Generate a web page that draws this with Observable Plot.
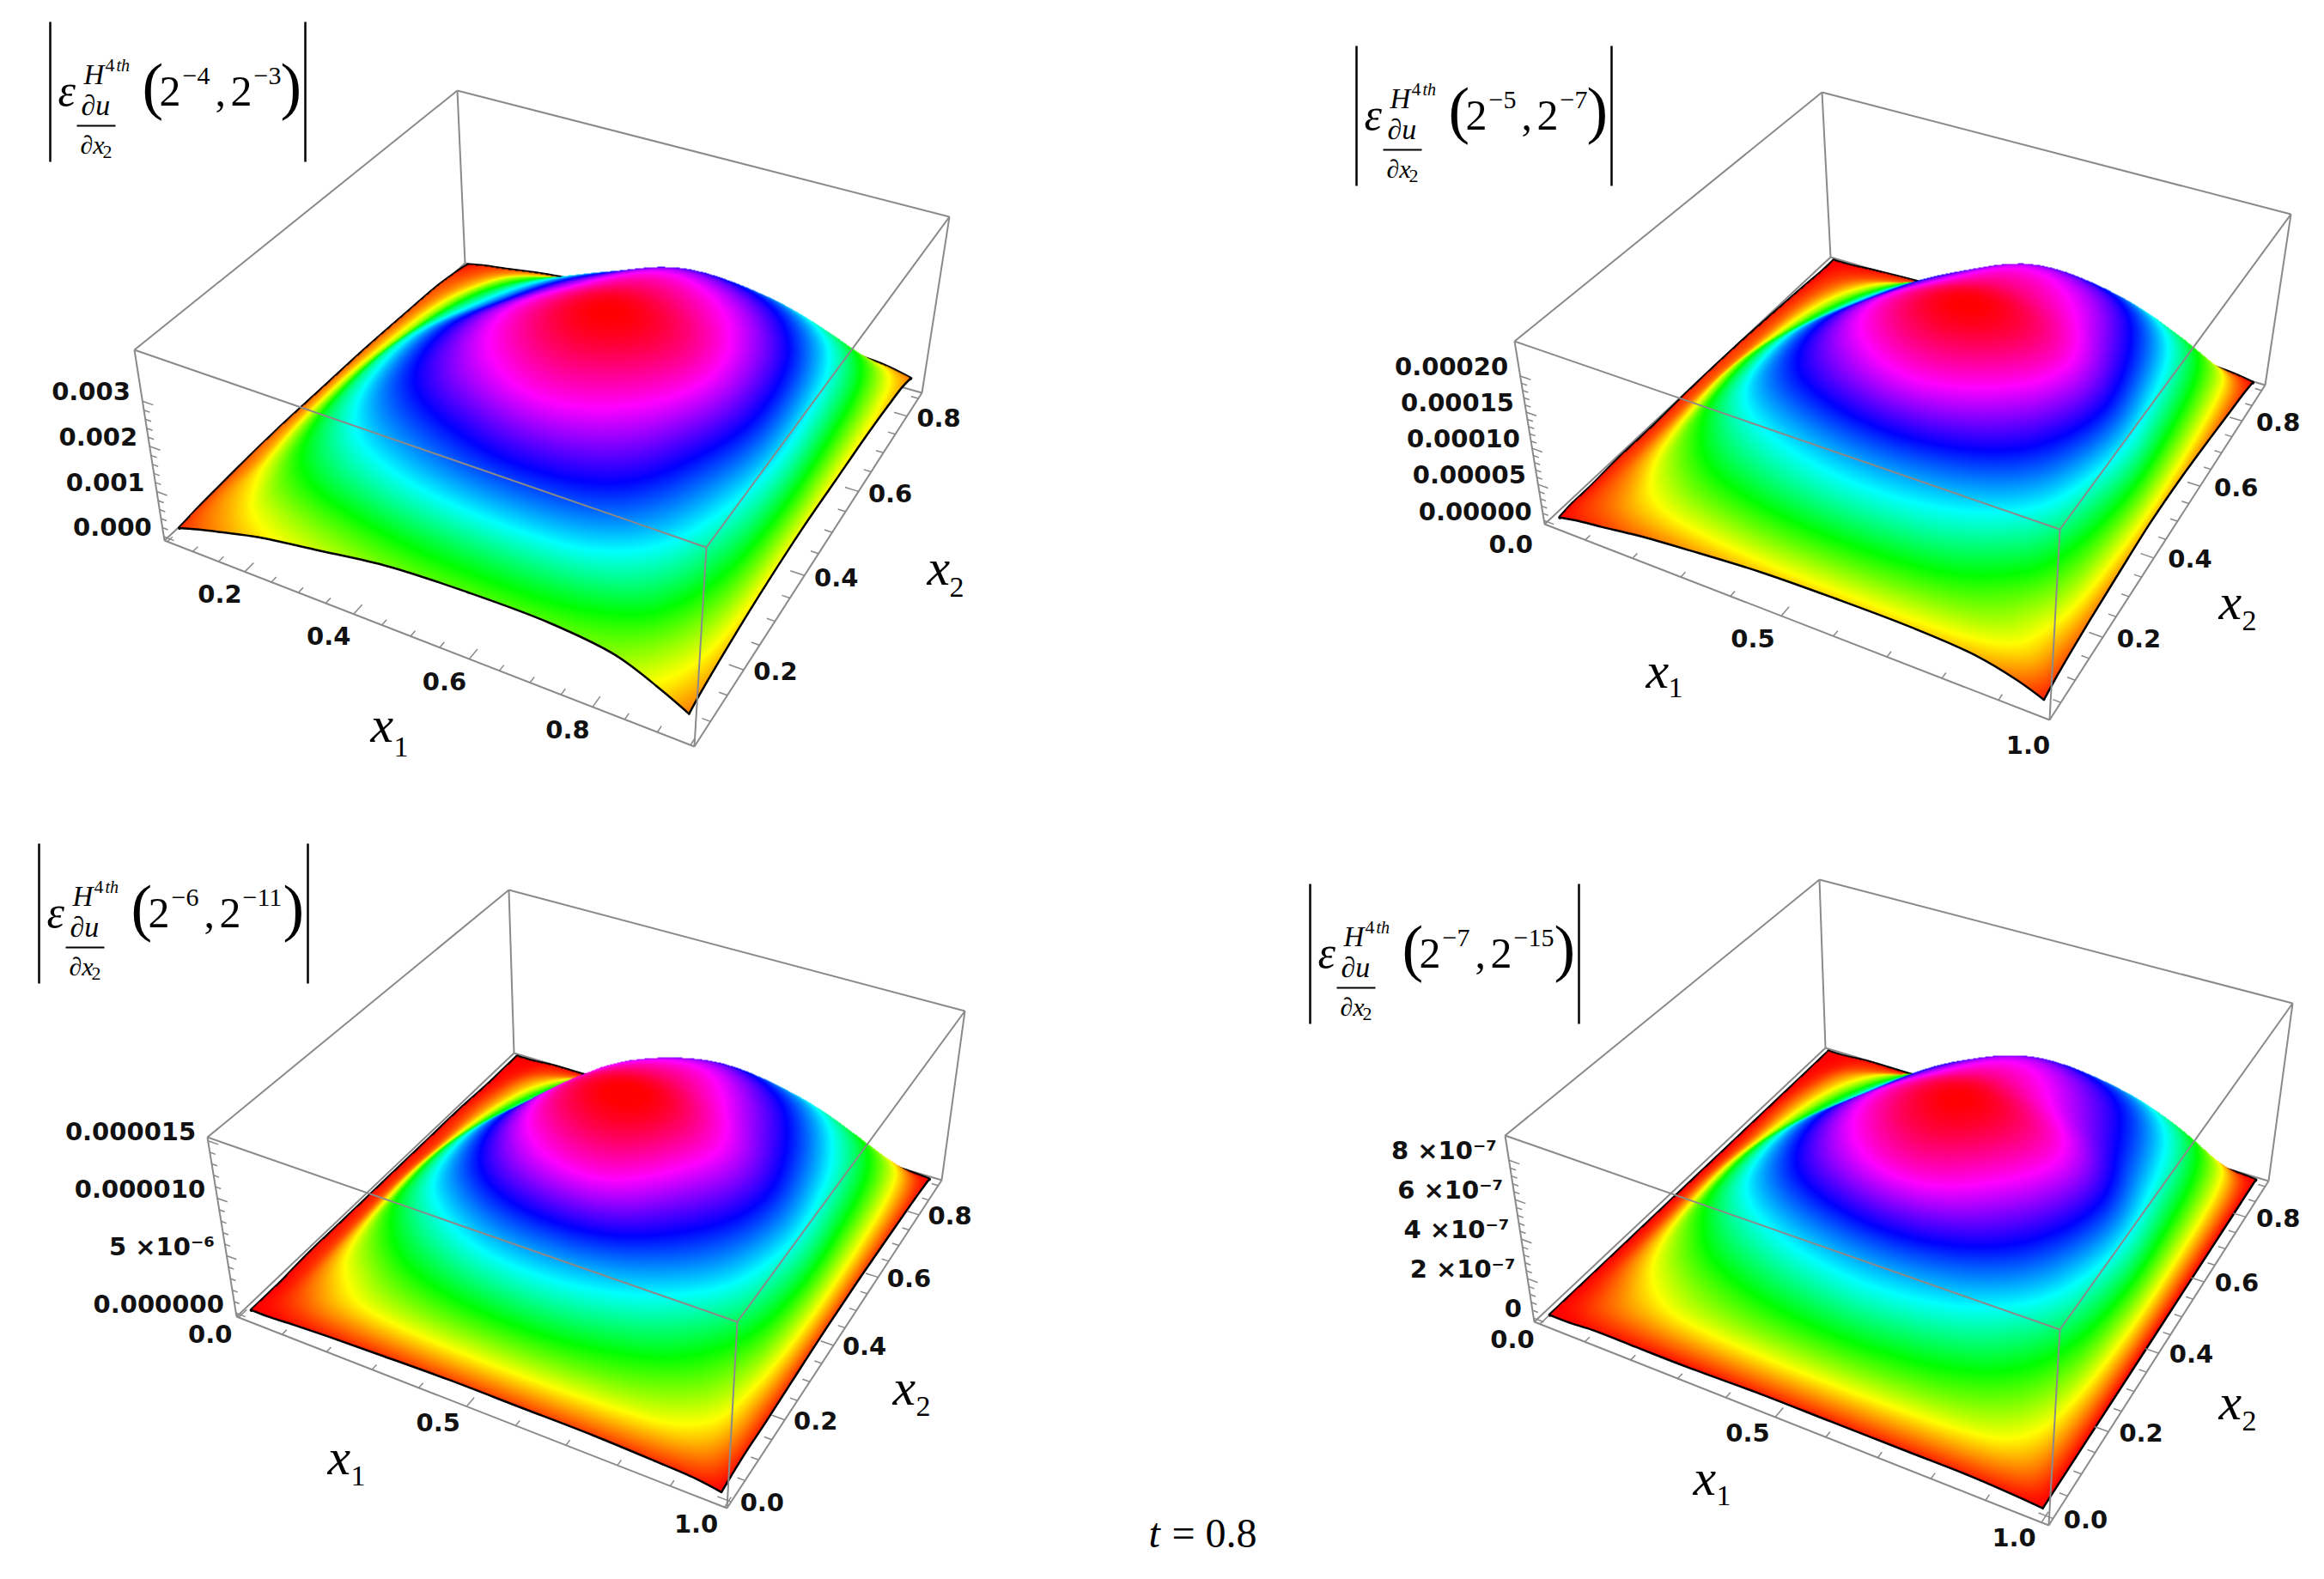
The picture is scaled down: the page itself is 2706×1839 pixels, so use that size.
<!DOCTYPE html>
<html><head><meta charset="utf-8">
<style>html,body{margin:0;padding:0;background:#fff}svg{display:block}</style>
<script src="https://cdn.jsdelivr.net/npm/d3@7"></script>
<script src="https://cdn.jsdelivr.net/npm/@observablehq/plot@0.6"></script>
</head><body><div id="chart"></div>
<script>
// Sample locations along each horizontal axis, as a fraction of the plotted range
const knots = [0,.04,.1,.18,.3,.45,.6,.75,.87,.95,1];
const heightP1 = [
[3,6,10,15,20,26,28,28,24,15,8],[4,8,13,20,28,35,38,37,30,19,10],[5,10,17,29,41,50,54,52,41,25,12],
[6,11,22,37,53,64,70,66,52,33,14],[7,13,26,44,64,80,88,80,62,42,16],[7,14,27,46,67,88,100,92,72,48,17],
[7,13,24,40,58,79,92,86,70,46,16],[6,11,20,32,47,64,78,73,59,40,15],[5,8,14,23,33,47,58,55,44,30,13],
[3,5,9,14,20,28,33,32,26,19,11],[1,3,5,8,11,14,15,15,13,11,8]];
const heightP2 = [
[0,2,4,7,10,13,14,14,12,7,2],[1,4,8,14,21,27,29,27,22,14,4],[1,5,11,21,33,41,44,41,31,19,6],
[2,6,15,29,45,55,59,55,44,27,8],[2,7,19,38,60,76,84,76,60,36,10],[3,8,22,40,64,88,100,92,72,45,12],
[3,7,18,33,54,78,91,85,67,41,11],[2,6,14,25,41,62,78,73,56,34,8],[1,4,9,16,27,42,55,52,40,25,5],
[0,2,4,7,12,20,25,24,18,12,3],[0,0,1,2,3,4,5,5,4,3,1]];
const heightP3 = [
[0,0,1,2,3,4,4,4,3,2,0],[0,2,6,12,19,24,25,22,17,10,1],[0,3,10,19,31,40,42,36,27,17,2],
[1,4,14,28,44,57,59,51,38,23,2],[1,5,18,38,60,80,86,70,54,33,3],[1,6,20,40,66,94,100,84,64,40,4],
[1,5,17,33,55,85,91,78,60,37,4],[1,5,13,25,42,67,77,67,50,31,3],[0,3,9,16,28,44,55,50,37,22,2],
[0,1,4,7,12,20,25,24,18,11,1],[0,0,1,1,2,2,2,2,2,1,0]];
const heightP4 = [
[0,0,1,1,1,2,2,2,2,1,0],[0,2,6,11,18,23,25,23,18,10,0],[0,3,9,18,29,38,42,38,29,17,0],
[0,4,13,26,42,54,59,54,41,24,0],[0,5,17,36,58,78,88,76,58,34,0],[0,6,19,38,63,88,100,90,70,42,0],
[0,5,16,31,52,78,90,80,63,38,0],[0,5,13,24,40,63,77,70,54,32,0],[0,3,9,16,27,42,55,52,40,23,0],
[0,1,4,7,12,20,25,25,19,11,0],[0,0,1,1,1,1,2,2,1,1,0]];
const peaks = [0.00405, 0.000243, 0.000015, 9.06e-7];
const x1Domains = [[.0625,.9375],[.03125,.96875],[.015625,.984375],[.0078125,.9921875]];
const x2Domains = [[.07,.85],[.03,.9],[.004,.9],[.004,.9]];
const zTicksP1 = [[0,"0.000"],[.001,"0.001"],[.002,"0.002"],[.003,"0.003"]];
const zTicksP2 = [[0,"0.00000"],[.00005,"0.00005"],[.0001,"0.00010"],[.00015,"0.00015"],[.0002,"0.00020"]];
const zTicksP3 = [[0,"0.000000"],[5e-6,"5 ×10⁻⁶"],[1e-5,"0.000010"],[1.5e-5,"0.000015"]];
const zTicksP4 = [[0,"0"],[2e-7,"2 ×10⁻⁷"],[4e-7,"4 ×10⁻⁷"],[6e-7,"6 ×10⁻⁷"],[8e-7,"8 ×10⁻⁷"]];
const x1LabelsP1 = [.2,.4,.6,.8], x1LabelsRest = [0,.5,1];
const x2LabelsP12 = [.2,.4,.6,.8], x2LabelsP34 = [0,.2,.4,.6,.8];
const exponents = [["−4","−3"],["−5","−7"],["−6","−11"],["−7","−15"]];

// Box corners on screen of each panel (bottom and top rings: x1x2 = 00,10,11,01) and layout
const panels = [
 {h:heightP1,bot:[[191,629],[808,869],[1073,457],[541,306]],top:[[156,407],[822,637],[1105,252],[532,105]],
  zt:zTicksP1,x1L:x1LabelsP1,x2L:x2LabelsP12,x1s:.05,title:[58,25],lab1:[431,863,458,880],lab2:[1079,680,1105,694],x1off:[-29,27],x2off:[37,3]},
 {h:heightP2,bot:[[1798,610],[2386,838],[2637,448],[2131,299]],top:[[1763,397],[2398,616],[2667,249],[2121,107]],
  zt:zTicksP2,x1L:x1LabelsRest,x2L:x2LabelsP12,x1s:.1,title:[1579,53],lab1:[1916,800,1942,811],lab2:[2583,720,2610,733],x1off:[-33,27],x2off:[42,2]},
 {h:heightP3,bot:[[275,1533],[846,1756],[1096,1374],[598,1226]],top:[[241,1324],[858,1539],[1123,1177],[592,1036]],
  zt:zTicksP3,x1L:x1LabelsRest,x2L:x2LabelsP34,x1s:.1,title:[45,982],lab1:[381,1716,408,1729],lab2:[1039,1635,1066,1648],x1off:[-33,20],x2off:[36,2]},
 {h:heightP4,bot:[[1786,1539],[2385,1776],[2641,1375],[2125,1220]],top:[[1752,1322],[2398,1548],[2669,1168],[2118,1024]],
  zt:zTicksP4,x1L:x1LabelsRest,x2L:x2LabelsP34,x1s:.1,title:[1525,1029],lab1:[1971,1740,1998,1752],lab2:[2583,1652,2610,1665],x1off:[-32,19],x2off:[38,2]}
];
const pad = .02;

function homography(q){ // unit square -> quad
  const [[x0,y0],[x1,y1],[x2,y2],[x3,y3]] = q;
  const dx1=x1-x2,dx2=x3-x2,sx=x0-x1+x2-x3,dy1=y1-y2,dy2=y3-y2,sy=y0-y1+y2-y3;
  const d=dx1*dy2-dx2*dy1,g=(sx*dy2-dx2*sy)/d,h=(dx1*sy-sx*dy1)/d;
  const a=x1-x0+g*x1,b=x3-x0+h*x3,c=x0,e=y1-y0+g*y1,f=y3-y0+h*y3,k=y0;
  return (u,v)=>{const w=g*u+h*v+1;return [(a*u+b*v+c)/w,(e*u+f*v+k)/w];};
}
panels.forEach((p,i)=>{
  const B=homography(p.bot),T=homography(p.top);
  p.i=i;p.dom1=x1Domains[i];p.dom2=x2Domains[i];p.peak=peaks[i];
  p.at=(u,v,w)=>{const a=B(u,v),b=T(u,v);return [a[0]+(b[0]-a[0])*w,a[1]+(b[1]-a[1])*w];};
  p.ux=x=>pad+(1-2*pad)*(x-p.dom1[0])/(p.dom1[1]-p.dom1[0]);
  p.vx=x=>pad+(1-2*pad)*(x-p.dom2[0])/(p.dom2[1]-p.dom2[0]);
  p.wz=z=>pad+(1-2*pad)*z/p.peak;
  p.s=s=>pad+(1-2*pad)*s;
  p.points=[];
  p.h.forEach((row,j)=>row.forEach((h,k)=>{
    const [x,y]=p.at(p.s(knots[k]),p.s(knots[j]),pad+(1-2*pad)*h/100);
    p.points.push({x,y,h:h/100});
  }));
  const xs=[...p.bot,...p.top].map(d=>d[0]),ys=[...p.bot,...p.top].map(d=>d[1]);
  p.bb=[d3.min(xs)-5,d3.min(ys)-5,d3.max(xs)+5,d3.max(ys)+5];
});

// Raster interpolator: smooth refinement of the sampled mesh, painted from back to front
function meshInterpolate(nu,nv,r){
  const cr=(a,b,c,d,t)=>.5*((2*b)+(c-a)*t+(2*a-5*b+4*c-d)*t*t+(3*b-a-3*c+d)*t*t*t);
  const refine=(A,n,m)=>{
    const M=(m-1)*r+1,N=(n-1)*r+1,T=new Float64Array(n*M),O=new Float64Array(N*M);
    for(let j=0;j<n;j++)for(let k=0;k<M;k++){
      const c=Math.min(Math.floor(k/r),m-2),t=k/r-c,g=q=>A[j*m+Math.max(0,Math.min(m-1,q))];
      T[j*M+k]=cr(g(c-1),g(c),g(c+1),g(c+2),t);
    }
    for(let k=0;k<M;k++)for(let j=0;j<N;j++){
      const c=Math.min(Math.floor(j/r),n-2),t=j/r-c,g=q=>T[Math.max(0,Math.min(n-1,q))*M+k];
      O[j*M+k]=cr(g(c-1),g(c),g(c+1),g(c+2),t);
    }
    return {O,N,M};
  };
  return (index,w,h,X,Y,V)=>{
    const W=new Float64Array(w*h).fill(NaN);
    const rx=refine(X,nv,nu),ry=refine(Y,nv,nu),rv=refine(Array.from(V),nv,nu);
    const {N,M}=rx,px=rx.O,py=ry.O,pv=rv.O;
    const tri=(a,b,c)=>{
      const ax=px[a],ay=py[a],bx=px[b],by=py[b],cx=px[c],cy=py[c];
      const d=(by-cy)*(ax-cx)+(cx-bx)*(ay-cy);if(Math.abs(d)<1e-9)return;
      const x0=Math.max(0,Math.floor(Math.min(ax,bx,cx))),x1=Math.min(w-1,Math.ceil(Math.max(ax,bx,cx)));
      const y0=Math.max(0,Math.floor(Math.min(ay,by,cy))),y1=Math.min(h-1,Math.ceil(Math.max(ay,by,cy)));
      for(let y=y0;y<=y1;y++)for(let x=x0;x<=x1;x++){
        const l1=((by-cy)*(x+.5-cx)+(cx-bx)*(y+.5-cy))/d,l2=((cy-ay)*(x+.5-cx)+(ax-cx)*(y+.5-cy))/d,l3=1-l1-l2;
        if(l1>=-.02&&l2>=-.02&&l3>=-.02)W[y*w+x]=l1*pv[a]+l2*pv[b]+l3*pv[c];
      }
    };
    for(let j=N-2;j>=0;j--)for(let k=0;k<M-1;k++){
      const a=j*M+k,b=a+1,c=a+M,e=c+1;
      tri(c,e,a);tri(e,b,a);
    }
    return W;
  };
}

const backWire=[],frontWire=[],tickLinks=[],tickText=[],zText=[],edgesBack=[],edgesFront=[];
panels.forEach(p=>{
  const seg=(arr,a,b)=>arr.push({x1:a[0],y1:a[1],x2:b[0],y2:b[1]});
  seg(backWire,p.top[3],p.bot[3]);seg(backWire,p.bot[0],p.bot[3]);seg(backWire,p.bot[3],p.bot[2]);
  seg(frontWire,p.top[0],p.top[1]);seg(frontWire,p.top[1],p.top[2]);seg(frontWire,p.top[2],p.top[3]);seg(frontWire,p.top[3],p.top[0]);
  seg(frontWire,p.top[0],p.bot[0]);seg(frontWire,p.top[1],p.bot[1]);seg(frontWire,p.top[2],p.bot[2]);
  seg(frontWire,p.bot[0],p.bot[1]);seg(frontWire,p.bot[1],p.bot[2]);
  for(let t=0;t<=1.0001;t=+(t+p.x1s).toFixed(3)){
    const u=p.ux(t);if(u<0||u>1)continue;
    const major=p.x1L.some(l=>Math.abs(l-t)<1e-6);
    seg(tickLinks,p.at(u,0,0),p.at(u,major?.025:.014,0));
  }
  p.x1L.forEach(l=>{const q=p.at(p.ux(l),0,0);tickText.push({x:q[0]+p.x1off[0],y:q[1]+p.x1off[1],t:l.toFixed(1)});});
  for(let t=0;t<=1.0001;t=+(t+.05).toFixed(3)){
    const v=p.vx(t);if(v<0||v>1)continue;
    const major=Math.abs((t*5)-Math.round(t*5))<1e-6;
    seg(tickLinks,p.at(1,v,0),p.at(major?.975:.986,v,0));
  }
  p.x2L.forEach(l=>{const q=p.at(1,p.vx(l),0);tickText.push({x:q[0]+p.x2off[0],y:q[1]+p.x2off[1],t:l.toFixed(1)});});
  p.zt.forEach(([z,label],i)=>{
    const w=p.wz(z),q=p.at(0,0,w);
    zText.push({x:q[0]-14,y:q[1]-10,t:label});
    seg(tickLinks,q,p.at(.022,0,w));
    if(i<p.zt.length-1){const st=(p.zt[i+1][0]-z)/5;for(let m=1;m<5;m++){const wm=p.wz(z+st*m);seg(tickLinks,p.at(0,0,wm),p.at(.012,0,wm));}}
  });
  const n=knots.length;
  const edge=(fn,id,arr)=>knots.forEach((_,a)=>{const [j,k]=fn(a);const P=p.points[j*n+k];arr.push({x:P.x,y:P.y,id:p.i+id});});
  edge(a=>[0,a],"f1",edgesFront);edge(a=>[a,n-1],"f2",edgesFront);
  edge(a=>[a,0],"b1",edgesBack);edge(a=>[n-1,a],"b2",edgesBack);
});

const tItalic=[],tPlain=[],titleRules=[];
panels.forEach((p,i)=>{
  const [x0,y0]=p.title,[e1,e2]=exponents[i],ex=e2.length>2?16:0;
  const I=(dx,dy,t,s)=>tItalic.push({x:x0+dx,y:y0+dy,t,s});
  const N=(dx,dy,t,s)=>tPlain.push({x:x0+dx,y:y0+dy,t,s});
  I(9,97,"ε",52);I(39,72,"H",33);N(64,57,"4",22);I(77,57,"th",20);
  I(36,108,"∂u",34);I(35,153,"∂x",30);N(61,158,"2",22);
  N(107,99,"(",74);N(127,97,"2",50);N(154,72,e1,30);N(192,97,",",50);N(210,97,"2",50);N(237,72,e2,30);N(268+ex,99,")",74);
  titleRules.push({x1:x0,y1:y0,x2:x0,y2:y0+163,w:2.5},{x1:x0+297+ex,y1:y0,x2:x0+297+ex,y2:y0+163,w:2.5},{x1:x0+31,y1:y0+121,x2:x0+76,y2:y0+121,w:2});
  tItalic.push({x:p.lab1[0],y:p.lab1[1],t:"x",s:60});tPlain.push({x:p.lab1[2],y:p.lab1[3],t:"1",s:34});
  tItalic.push({x:p.lab2[0],y:p.lab2[1],t:"x",s:60});tPlain.push({x:p.lab2[2],y:p.lab2[3],t:"2",s:34});
});
tItalic.push({x:1337,y:1801,t:"t",s:48});tPlain.push({x:1364,y:1801,t:"= 0.8",s:48});

const serif="'Liberation Serif','Times New Roman',serif";
const wire={x1:"x1",y1:"y1",x2:"x2",y2:"y2",stroke:"#8a8a8a",strokeWidth:2};
const chart=Plot.plot({
  width:2706,height:1839,margin:0,
  x:{domain:[0,2706],range:[0,2706],axis:null},
  y:{domain:[0,1839],range:[0,1839],axis:null},
  color:{type:"linear",domain:[0,1/6,2/6,3/6,4/6,5/6,1],range:["#f00","#ff0","#0f0","#0ff","#00f","#f0f","#f00"],clamp:true},
  style:{background:"#fff"},
  marks:[
    Plot.link(backWire,wire),
    Plot.line(edgesBack,{x:"x",y:"y",z:"id",stroke:"#000",strokeWidth:4,curve:"catmull-rom"}),
    ...panels.map(p=>Plot.raster(p.points,{x:"x",y:"y",fill:"h",x1:p.bb[0],y1:p.bb[1],x2:p.bb[2],y2:p.bb[3],interpolate:meshInterpolate(knots.length,knots.length,6)})),
    Plot.line(edgesFront,{x:"x",y:"y",z:"id",stroke:"#000",strokeWidth:2.5,curve:"catmull-rom"}),
    Plot.link(frontWire,wire),
    Plot.link(tickLinks,{x1:"x1",y1:"y1",x2:"x2",y2:"y2",stroke:"#888",strokeWidth:1.5}),
    Plot.text(tickText,{x:"x",y:"y",text:"t",fontSize:29,fontFamily:"'DejaVu Sans'",fontWeight:"bold",fill:"#111",textAnchor:"middle"}),
    Plot.text(zText,{x:"x",y:"y",text:"t",fontSize:29,fontFamily:"'DejaVu Sans'",fontWeight:"bold",fill:"#111",textAnchor:"end"}),
    Plot.link(titleRules,{x1:"x1",y1:"y1",x2:"x2",y2:"y2",stroke:"#000",strokeWidth:"w"}),
    Plot.text(tItalic,{x:"x",y:"y",text:"t",fontSize:"s",fontFamily:serif,fontStyle:"italic",fill:"#000",textAnchor:"start",lineAnchor:"bottom"}),
    Plot.text(tPlain,{x:"x",y:"y",text:"t",fontSize:"s",fontFamily:serif,fill:"#000",textAnchor:"start",lineAnchor:"bottom"})
  ]
});
document.getElementById("chart").appendChild(chart);
</script></body></html>
